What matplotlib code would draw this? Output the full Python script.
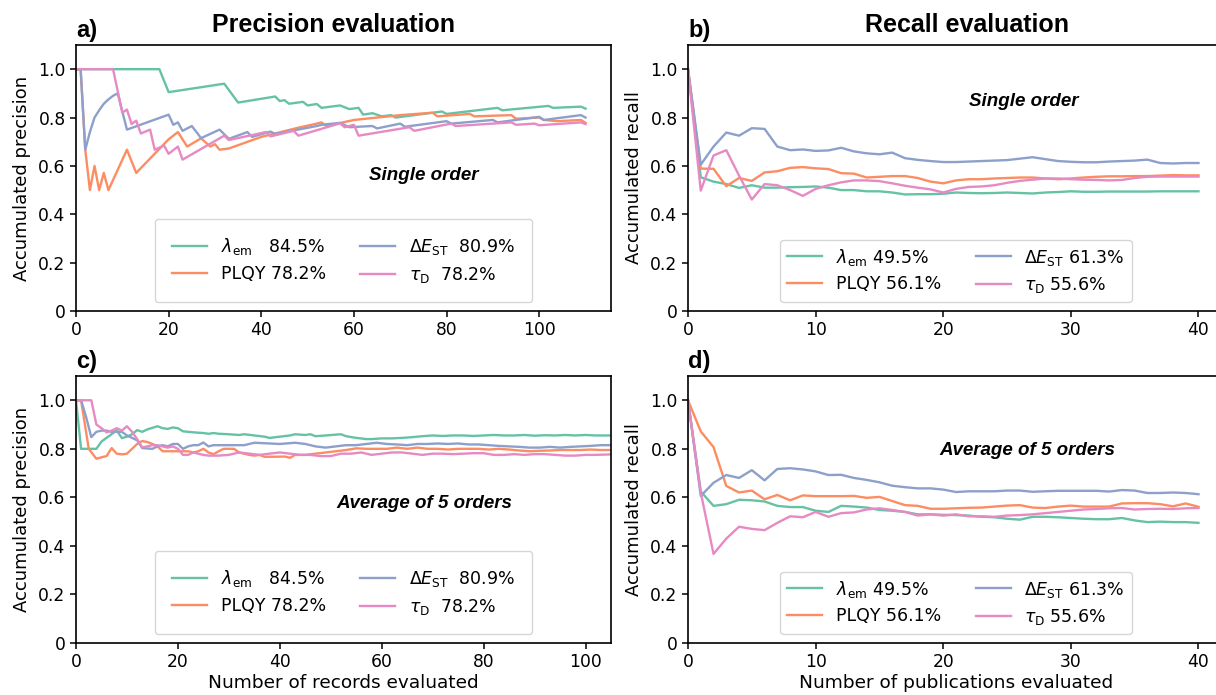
import matplotlib
matplotlib.use("Agg")
import matplotlib.pyplot as plt

# ---------------- data ----------------
colors = {"lam": "#66c2a5", "plqy": "#fc8d62", "dest": "#8da0cb", "tau": "#e78ac3"}

labels_prec = {"lam": r"$\lambda_{\rm em}$   84.5%", "plqy": "PLQY 78.2%",
               "dest": r"$\Delta E_{\rm ST}$  80.9%", "tau": r"$\tau_{\rm D}$  78.2%"}
labels_rec = {"lam": r"$\lambda_{\rm em}$ 49.5%", "plqy": "PLQY 56.1%",
              "dest": r"$\Delta E_{\rm ST}$ 61.3%", "tau": r"$\tau_{\rm D}$ 55.6%"}

# Panel a: single order precision (vertices)
a_lam_x = [0, 18, 20, 32, 35, 43, 44, 45, 46, 49, 50, 52, 53, 57, 59, 61, 62, 64, 66, 68, 69, 79, 80, 91, 92, 102, 103, 109, 110]
a_lam_y = [1.0, 1.0, 0.905, 0.94, 0.862, 0.887, 0.868, 0.872, 0.857, 0.865, 0.85, 0.856, 0.84, 0.85, 0.835, 0.84, 0.812, 0.818, 0.805, 0.81, 0.8, 0.825, 0.815, 0.84, 0.83, 0.848, 0.84, 0.845, 0.837]

a_plqy_x = [0, 1, 2, 3, 4, 5, 6, 7, 11, 13, 20, 22, 24, 27, 29, 30, 31, 33, 40, 48, 52, 53, 54, 60, 70, 77, 78, 85, 86, 94, 95, 100, 101, 104, 109, 110]
a_plqy_y = [1.0, 1.0, 0.667, 0.5, 0.6, 0.5, 0.571, 0.5, 0.667, 0.571, 0.71, 0.74, 0.68, 0.714, 0.68, 0.69, 0.667, 0.672, 0.72, 0.758, 0.775, 0.78, 0.765, 0.79, 0.81, 0.82, 0.805, 0.815, 0.805, 0.81, 0.795, 0.8, 0.79, 0.785, 0.79, 0.778]

a_dest_x = [0, 1, 2, 3, 4, 5, 6, 7, 8, 9, 11, 20, 21, 22, 23, 25, 27, 31, 33, 37, 38, 42, 43, 52, 53, 57, 59, 64, 65, 70, 71, 80, 81, 90, 91, 100, 101, 109, 110]
a_dest_y = [1.0, 1.0, 0.667, 0.74, 0.8, 0.83, 0.857, 0.875, 0.89, 0.9, 0.75, 0.812, 0.77, 0.78, 0.745, 0.765, 0.715, 0.75, 0.712, 0.74, 0.72, 0.742, 0.732, 0.765, 0.77, 0.778, 0.76, 0.765, 0.755, 0.775, 0.762, 0.785, 0.775, 0.79, 0.78, 0.803, 0.79, 0.81, 0.8]

a_tau_x = [0, 8, 10, 11, 12, 13, 14, 16, 17, 19, 20, 22, 23, 32, 33, 41, 42, 47, 48, 57, 58, 60, 61, 72, 73, 81, 82, 94, 95, 99, 100, 109, 110]
a_tau_y = [1.0, 1.0, 0.82, 0.833, 0.773, 0.787, 0.734, 0.75, 0.667, 0.684, 0.65, 0.68, 0.626, 0.725, 0.707, 0.74, 0.722, 0.745, 0.725, 0.776, 0.76, 0.77, 0.725, 0.76, 0.745, 0.775, 0.765, 0.78, 0.77, 0.775, 0.768, 0.78, 0.773]

# Panel b: single order recall, x = 0..40
b_x = list(range(41))
b_lam = [1.0, 0.553, 0.535, 0.525, 0.509, 0.52, 0.51, 0.51, 0.512, 0.513, 0.515, 0.51, 0.5, 0.5, 0.495, 0.495, 0.49, 0.482, 0.483, 0.483, 0.485,
         0.49, 0.488, 0.487, 0.488, 0.49, 0.488, 0.486, 0.49, 0.492, 0.495, 0.493, 0.493, 0.494, 0.494, 0.494, 0.494, 0.495, 0.495, 0.495, 0.495]
b_plqy = [1.0, 0.589, 0.588, 0.516, 0.55, 0.538, 0.573, 0.578, 0.592, 0.595, 0.59, 0.587, 0.57, 0.568, 0.552, 0.555, 0.558, 0.558, 0.55, 0.535, 0.528,
          0.54, 0.545, 0.545, 0.548, 0.55, 0.552, 0.552, 0.548, 0.545, 0.548, 0.552, 0.555, 0.557, 0.557, 0.558, 0.558, 0.56, 0.562, 0.561, 0.561]
b_dest = [1.0, 0.605, 0.68, 0.738, 0.725, 0.756, 0.753, 0.68, 0.665, 0.668, 0.662, 0.664, 0.675, 0.66, 0.652, 0.648, 0.655, 0.632, 0.625, 0.62, 0.616,
          0.616, 0.618, 0.62, 0.622, 0.624, 0.63, 0.636, 0.628, 0.62, 0.617, 0.615, 0.615, 0.618, 0.62, 0.622, 0.626, 0.612, 0.61, 0.612, 0.612]
b_tau = [1.0, 0.498, 0.643, 0.665, 0.56, 0.461, 0.525, 0.52, 0.5, 0.476, 0.505, 0.52, 0.532, 0.54, 0.54, 0.537, 0.528, 0.518, 0.51, 0.503, 0.49,
         0.505, 0.513, 0.515, 0.52, 0.53, 0.538, 0.543, 0.548, 0.548, 0.545, 0.543, 0.542, 0.54, 0.542, 0.55, 0.555, 0.556, 0.556, 0.556, 0.556]

# Panel c: average of 5 orders precision
c_lam_x = [0, 1, 4, 5, 8, 9, 10, 11, 12, 13, 14, 16, 17, 18, 19, 20, 21, 23, 25, 26, 27, 28, 30, 32, 33, 35, 37, 38, 40, 42, 43, 45, 46, 47, 49, 52, 53, 55, 57, 58, 60, 62, 64, 66, 68, 70, 72, 74, 76, 78, 80, 82, 84, 86, 88, 90, 92, 94, 96, 98, 100, 102, 105]
c_lam_y = [1.0, 0.8, 0.8, 0.83, 0.876, 0.844, 0.85, 0.86, 0.877, 0.87, 0.88, 0.893, 0.885, 0.882, 0.888, 0.885, 0.872, 0.868, 0.865, 0.862, 0.865, 0.862, 0.86, 0.857, 0.86, 0.855, 0.85, 0.845, 0.85, 0.855, 0.86, 0.857, 0.86, 0.852, 0.855, 0.86, 0.852, 0.845, 0.84, 0.84, 0.843, 0.843, 0.845, 0.848, 0.852, 0.855, 0.853, 0.855, 0.855, 0.853, 0.855, 0.857, 0.855, 0.855, 0.857, 0.854, 0.856, 0.855, 0.857, 0.855, 0.857, 0.855, 0.855]

c_plqy_x = [0, 1, 2.5, 4, 5, 6, 7, 8, 9, 10, 11, 12, 13, 14, 15, 16, 17, 20, 22, 23, 24, 25, 26, 27, 28, 29, 31, 32, 33, 34, 35, 36, 37, 41, 42, 43, 45, 47, 49, 51, 53, 55, 57, 59, 61, 63, 65, 67, 69, 71, 73, 75, 77, 79, 81, 83, 85, 87, 89, 91, 93, 95, 97, 99, 101, 103, 105]
c_plqy_y = [1.0, 1.0, 0.8, 0.759, 0.765, 0.77, 0.803, 0.78, 0.777, 0.78, 0.8, 0.82, 0.832, 0.828, 0.82, 0.81, 0.79, 0.79, 0.79, 0.785, 0.79, 0.8, 0.785, 0.778, 0.79, 0.8, 0.8, 0.785, 0.78, 0.775, 0.772, 0.775, 0.767, 0.768, 0.763, 0.775, 0.775, 0.78, 0.785, 0.79, 0.795, 0.802, 0.8, 0.8, 0.8, 0.805, 0.8, 0.805, 0.8, 0.8, 0.797, 0.8, 0.8, 0.8, 0.797, 0.8, 0.797, 0.793, 0.79, 0.792, 0.793, 0.795, 0.795, 0.795, 0.797, 0.795, 0.795]

c_dest_x = [0, 1, 2, 3, 4, 5, 6, 7, 8, 9, 10, 11, 12, 13, 15, 16, 17, 18, 19, 20, 21, 22, 23, 24, 25, 26, 27, 33, 34, 35, 40, 43, 45, 47, 49, 51, 53, 55, 57, 59, 61, 63, 65, 67, 69, 71, 73, 75, 77, 79, 81, 83, 85, 87, 89, 91, 93, 95, 97, 99, 101, 103, 105]
c_dest_y = [1.0, 1.0, 0.93, 0.848, 0.87, 0.875, 0.875, 0.87, 0.87, 0.87, 0.855, 0.845, 0.835, 0.803, 0.8, 0.81, 0.815, 0.81, 0.82, 0.82, 0.8, 0.81, 0.815, 0.815, 0.826, 0.81, 0.815, 0.815, 0.82, 0.825, 0.82, 0.825, 0.82, 0.81, 0.805, 0.81, 0.815, 0.815, 0.82, 0.825, 0.82, 0.818, 0.815, 0.82, 0.82, 0.822, 0.82, 0.822, 0.818, 0.818, 0.815, 0.812, 0.81, 0.808, 0.805, 0.805, 0.808, 0.805, 0.808, 0.81, 0.812, 0.815, 0.815]

c_tau_x = [0, 3, 4, 5, 6, 7, 8, 9, 10, 11, 12, 13, 14, 15, 16, 17, 18, 19, 20, 21, 22, 23, 24, 25, 26, 28, 30, 32, 34, 36, 38, 40, 42, 44, 46, 48, 50, 52, 54, 56, 58, 60, 62, 64, 66, 68, 70, 72, 74, 76, 78, 80, 82, 84, 86, 88, 90, 92, 94, 96, 98, 100, 102, 105]
c_tau_y = [1.0, 1.0, 0.9, 0.885, 0.868, 0.875, 0.885, 0.875, 0.893, 0.87, 0.84, 0.806, 0.81, 0.815, 0.815, 0.81, 0.805, 0.81, 0.8, 0.775, 0.775, 0.785, 0.78, 0.775, 0.772, 0.772, 0.775, 0.785, 0.78, 0.775, 0.78, 0.785, 0.78, 0.775, 0.775, 0.77, 0.77, 0.78, 0.78, 0.785, 0.775, 0.78, 0.785, 0.785, 0.78, 0.775, 0.78, 0.78, 0.778, 0.78, 0.782, 0.782, 0.775, 0.775, 0.778, 0.775, 0.778, 0.778, 0.775, 0.772, 0.772, 0.775, 0.775, 0.777]

# Panel d: average of 5 orders recall, x = 0..40
d_x = list(range(41))
d_lam = [1.0, 0.624, 0.565, 0.572, 0.59, 0.588, 0.583, 0.565, 0.56, 0.56, 0.545, 0.54, 0.565, 0.562, 0.558, 0.548, 0.545, 0.54, 0.53, 0.53, 0.528,
         0.527, 0.525, 0.52, 0.518, 0.512, 0.508, 0.52, 0.52, 0.518, 0.515, 0.512, 0.51, 0.51, 0.515, 0.505, 0.498, 0.5, 0.498, 0.498, 0.495]
d_plqy = [1.0, 0.872, 0.807, 0.647, 0.62, 0.628, 0.592, 0.61, 0.588, 0.608, 0.605, 0.605, 0.605, 0.606, 0.598, 0.602, 0.585, 0.568, 0.565, 0.553, 0.553,
          0.555, 0.557, 0.558, 0.562, 0.566, 0.568, 0.558, 0.556, 0.562, 0.566, 0.562, 0.562, 0.562, 0.575, 0.576, 0.576, 0.572, 0.563, 0.575, 0.561]
d_dest = [1.0, 0.606, 0.66, 0.692, 0.68, 0.712, 0.67, 0.717, 0.72, 0.715, 0.707, 0.692, 0.693, 0.68, 0.672, 0.662, 0.648, 0.642, 0.637, 0.637, 0.632,
          0.622, 0.625, 0.625, 0.625, 0.628, 0.628, 0.623, 0.625, 0.627, 0.627, 0.627, 0.627, 0.624, 0.63, 0.628, 0.618, 0.618, 0.62, 0.618, 0.613]
d_tau = [1.0, 0.62, 0.367, 0.43, 0.479, 0.47, 0.465, 0.495, 0.522, 0.518, 0.54, 0.52, 0.535, 0.538, 0.55, 0.555, 0.548, 0.54, 0.525, 0.53, 0.525,
         0.53, 0.522, 0.522, 0.52, 0.525, 0.527, 0.53, 0.535, 0.54, 0.545, 0.55, 0.552, 0.555, 0.556, 0.55, 0.552, 0.553, 0.552, 0.555, 0.556]

y_ticks = [0, 0.2, 0.4, 0.6, 0.8, 1.0]
y_ticklabels = ["0", "0.2", "0.4", "0.6", "0.8", "1.0"]

# ---------------- figure ----------------
plt.rcParams["font.family"] = ["DejaVu Sans"]
plt.rcParams["font.size"] = 12
W, H = 1216, 695
fig = plt.figure(figsize=(W / 100, H / 100), dpi=100)

def rect(l, r, t, b):
    return [l / W, (H - b) / H, (r - l) / W, (b - t) / H]

ax_a = fig.add_axes(rect(76, 611, 45, 311))
ax_b = fig.add_axes(rect(688, 1224, 45, 311))
ax_c = fig.add_axes(rect(76, 611, 376, 643))
ax_d = fig.add_axes(rect(688, 1224, 376, 643))

data_a = {"lam": (a_lam_x, a_lam_y), "plqy": (a_plqy_x, a_plqy_y),
          "dest": (a_dest_x, a_dest_y), "tau": (a_tau_x, a_tau_y)}
data_b = {"lam": (b_x, b_lam), "plqy": (b_x, b_plqy), "dest": (b_x, b_dest), "tau": (b_x, b_tau)}
data_c = {"lam": (c_lam_x, c_lam_y), "plqy": (c_plqy_x, c_plqy_y),
          "dest": (c_dest_x, c_dest_y), "tau": (c_tau_x, c_tau_y)}
data_d = {"lam": (d_x, d_lam), "plqy": (d_x, d_plqy), "dest": (d_x, d_dest), "tau": (d_x, d_tau)}

legend_order = ["lam", "plqy", "dest", "tau"]

def draw(ax, data, labels, xlim, xticks, ylabel, xlabel, note, note_xy, bpad):
    handles = {}
    for k in ["lam", "plqy", "dest", "tau"]:
        x, y = data[k]
        h, = ax.plot(x, y, color=colors[k], lw=1.7, label=labels[k])
        handles[k] = h
    ax.set_xlim(*xlim)
    ax.set_ylim(0, 1.1)
    ax.set_xticks(xticks)
    ax.set_yticks(y_ticks)
    ax.set_yticklabels(y_ticklabels)
    ax.tick_params(labelsize=12.3, width=1.1, length=4)
    for s in ax.spines.values():
        s.set_linewidth(1.2)
    ax.set_ylabel(ylabel, fontsize=13, labelpad=5)
    if xlabel:
        ax.set_xlabel(xlabel, fontsize=13.3, labelpad=2)
    ax.text(note_xy[0], note_xy[1], note, transform=ax.transAxes, ha="center", va="center",
            family="Liberation Sans", fontweight="bold", fontstyle="italic", fontsize=13.5)
    ax.legend([handles[k] for k in legend_order], [labels[k] for k in legend_order],
              ncol=2, loc="lower center", bbox_to_anchor=(0.5, 0.0), fontsize=12.5,
              borderpad=bpad, borderaxespad=0.5, labelspacing=0.45)

draw(ax_a, data_a, labels_prec, (0, 115.5), [0, 20, 40, 60, 80, 100], "Accumulated precision", None,
     "Single order", (0.65, 0.511), 1.0)
draw(ax_b, data_b, labels_rec, (0, 42), [0, 10, 20, 30, 40], "Accumulated recall", None,
     "Single order", (0.626, 0.787), 0.4)
draw(ax_c, data_c, labels_prec, (0, 105), [0, 20, 40, 60, 80, 100], "Accumulated precision",
     "Number of records evaluated", "Average of 5 orders", (0.652, 0.524), 1.0)
draw(ax_d, data_d, labels_rec, (0, 42), [0, 10, 20, 30, 40], "Accumulated recall",
     "Number of publications evaluated", "Average of 5 orders", (0.634, 0.72), 0.4)

# panel letters and titles
for ax, letter in [(ax_a, "a)"), (ax_b, "b)"), (ax_c, "c)"), (ax_d, "d)")]:
    ax.text(0.0, 1.03, letter, transform=ax.transAxes, ha="left", va="baseline",
            family="Liberation Sans", fontweight="bold", fontsize=17)
ax_a.text(0.482, 1.049, "Precision evaluation", transform=ax_a.transAxes, ha="center", va="baseline",
          family="Liberation Sans", fontweight="bold", fontsize=18)
ax_b.text(0.52, 1.049, "Recall evaluation", transform=ax_b.transAxes, ha="center", va="baseline",
          family="Liberation Sans", fontweight="bold", fontsize=18)

fig.savefig("out.png", dpi=100)
